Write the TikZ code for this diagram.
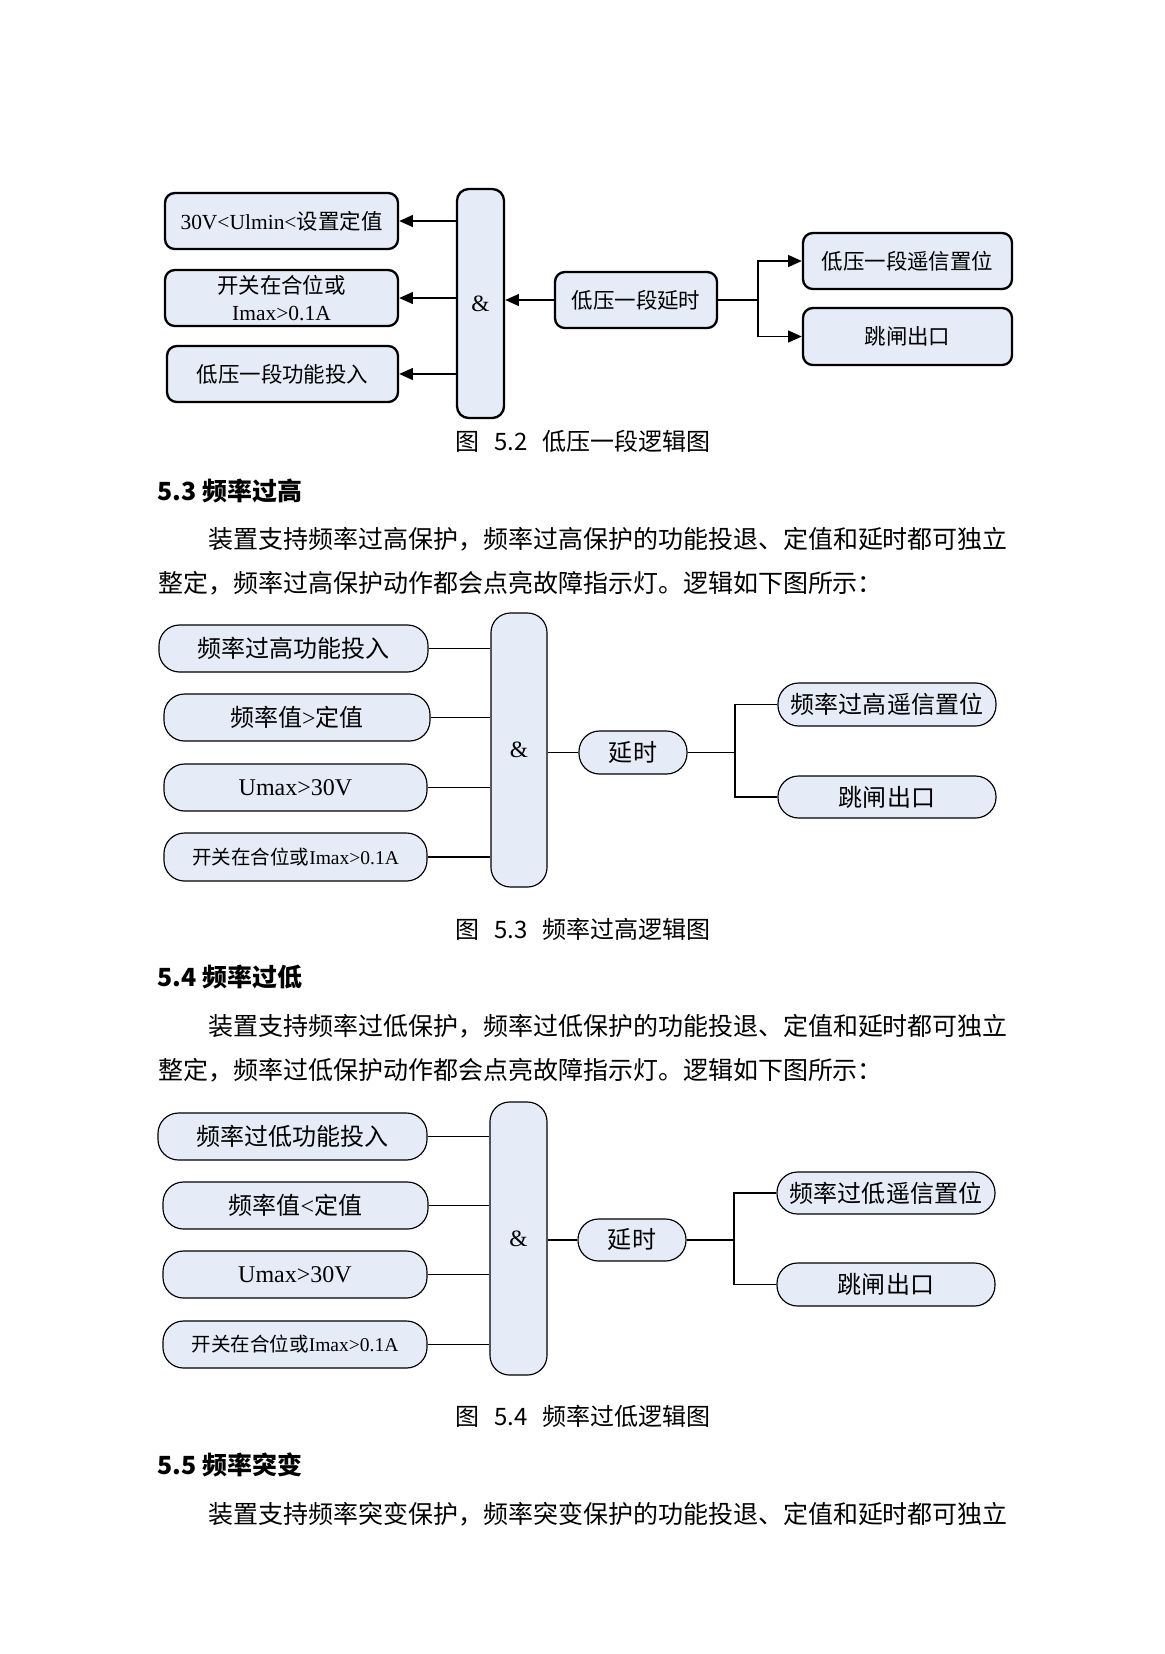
\documentclass[tikz,border=0pt]{standalone}
\usepackage{fontspec}
\setmainfont{Liberation Serif}
\newfontfamily\cjk{Noto Sans CJK SC}
\usepackage{xcolor}
\usetikzlibrary{arrows.meta}
\definecolor{boxfill}{RGB}{230,236,247}
\newcommand{\lat}[1]{{\rmfamily #1}}
\newcommand{\capgap}{\hspace{0.6em}}

\begin{document}
\begin{tikzpicture}[x=0.018cm, y=-0.018cm,
    sz/.style 2 args={minimum width=#1*0.018cm, minimum height=#2*0.018cm, inner sep=0pt},
    thickbox/.style={draw, line width=1.2pt, fill=boxfill, rounded corners=5pt, align=center,
        font=\cjk\fontsize{11}{14}\selectfont},
    pill/.style={draw, line width=0.6pt, fill=boxfill, rounded corners=10.5pt,
        font=\cjk\fontsize{12.3}{14}\selectfont},
    gate/.style={draw, fill=boxfill, font=\rmfamily\fontsize{12}{14}\selectfont},
    arr/.style={line width=1pt, -{Triangle[length=7pt, width=6pt]}},
    wire/.style={line width=0.6pt},
    body/.style={anchor=west, inner sep=0pt, font=\cjk\fontsize{12.8}{15}\selectfont},
    caption/.style={inner sep=0pt, font=\cjk\fontsize{12.3}{14}\selectfont},
    heading/.style={anchor=west, inner sep=0pt, font=\cjk\bfseries\fontsize{12.8}{15}\selectfont}]

    % PAGE
    \useasboundingbox[fill=white] (0,0) rectangle (1165,1654);

    % FIGURE 5.2: LOW VOLTAGE STAGE ONE
    \node[thickbox, sz={233}{56}] (uin1) at (281.5,221) {\lat{30V<Ulmin<}设置定值};
    \node[thickbox, sz={233}{56}] (uin2) at (281.5,298) {开关在合位或\\\lat{Imax>0.1A}};
    \node[thickbox, sz={231}{56}] (uin3) at (282.5,374) {低压一段功能投入};
    \node[gate, line width=1.2pt, rounded corners=6pt, sz={47}{229}] (uand) at (480.5,303.5) {\&};
    \node[thickbox, sz={162}{56}] (udly) at (636,300) {低压一段延时};
    \node[thickbox, sz={209}{56}] (uout1) at (907.5,261) {低压一段遥信置位};
    \node[thickbox, sz={209}{57}] (uout2) at (907.5,336.5) {跳闸出口};
    \coordinate (ubr) at (758,300);

    \foreach \n in {1,2,3}
        \draw[arr] (uin\n.east -| uand.west) -- (uin\n.east);
    \draw[arr] (udly.west) -- (udly.west -| uand.east);
    \draw[arr] (udly.east) -- (ubr) |- (uout1.west);
    \draw[arr] (ubr) |- (uout2.west);

    \node[caption] (cap2) at (583,441) {图\capgap 5.2\capgap 低压一段逻辑图};

    % SECTION 5.3
    \node[heading] (head3) at (157,491) {5.3 频率过高};
    \node[body] (p3a) at (208,539) {装置支持频率过高保护，频率过高保护的功能投退、定值和延时都可独立};
    \node[body] (p3b) at (158,583) {整定，频率过高保护动作都会点亮故障指示灯。逻辑如下图所示：};

    % FIGURE 5.3: OVER FREQUENCY
    \node[pill, sz={269}{47}] (hin1) at (293.5,648.5) {频率过高功能投入};
    \node[pill, sz={266}{47}] (hin2) at (297,717.5) {频率值\lat{>}定值};
    \node[pill, sz={263}{47}] (hin3) at (295.5,787.5) {\lat{Umax>30V}};
    \node[pill, sz={263}{48}, font=\cjk\fontsize{10}{12}\selectfont] (hin4) at (295.5,857) {开关在合位或\lat{Imax>0.1A}};
    \node[gate, line width=0.6pt, rounded corners=10pt, sz={56}{274}] (hand) at (519,750) {\&};
    \node[pill, sz={108}{43}] (hdly) at (633,752.5) {延时};
    \node[pill, sz={218}{43}] (hout1) at (887,704.5) {频率过高遥信置位};
    \node[pill, sz={218}{42}] (hout2) at (887,797) {跳闸出口};
    \coordinate (hbr) at (735,752.5);

    \foreach \n in {1,...,4}
        \draw[wire] (hin\n.east) -- (hin\n.east -| hand.west);
    \draw[wire] (hdly.west -| hand.east) -- (hdly.west);
    \draw[wire] (hdly.east) -- (hbr) |- (hout1.west);
    \draw[wire] (hbr) |- (hout2.west);

    \node[caption] (cap3) at (583,929) {图\capgap 5.3\capgap 频率过高逻辑图};

    % SECTION 5.4
    \node[heading] (head4) at (157,977) {5.4 频率过低};
    \node[body] (p4a) at (208,1026) {装置支持频率过低保护，频率过低保护的功能投退、定值和延时都可独立};
    \node[body] (p4b) at (158,1070) {整定，频率过低保护动作都会点亮故障指示灯。逻辑如下图所示：};

    % FIGURE 5.4: UNDER FREQUENCY
    \node[pill, sz={269}{47}] (lin1) at (292.5,1136.5) {频率过低功能投入};
    \node[pill, sz={265}{47}] (lin2) at (295.5,1205.5) {频率值\lat{<}定值};
    \node[pill, sz={264}{47}] (lin3) at (295,1274.5) {\lat{Umax>30V}};
    \node[pill, sz={264}{47}, font=\cjk\fontsize{10}{12}\selectfont] (lin4) at (295,1344.5) {开关在合位或\lat{Imax>0.1A}};
    \node[gate, line width=0.6pt, rounded corners=10pt, sz={57}{273}] (land) at (518.5,1238.5) {\&};
    \node[pill, sz={108}{42}] (ldly) at (632,1240) {延时};
    \node[pill, sz={218}{42}] (lout1) at (886,1193) {频率过低遥信置位};
    \node[pill, sz={218}{43}] (lout2) at (886,1284.5) {跳闸出口};
    \coordinate (lbr) at (734,1240);

    \foreach \n in {1,...,4}
        \draw[wire] (lin\n.east) -- (lin\n.east -| land.west);
    \draw[wire] (ldly.west -| land.east) -- (ldly.west);
    \draw[wire] (ldly.east) -- (lbr) |- (lout1.west);
    \draw[wire] (lbr) |- (lout2.west);

    \node[caption] (cap4) at (583,1416) {图\capgap 5.4\capgap 频率过低逻辑图};

    % SECTION 5.5
    \node[heading] (head5) at (157,1465) {5.5 频率突变};
    \node[body] (p5a) at (208,1514) {装置支持频率突变保护，频率突变保护的功能投退、定值和延时都可独立};
\end{tikzpicture}
\end{document}
